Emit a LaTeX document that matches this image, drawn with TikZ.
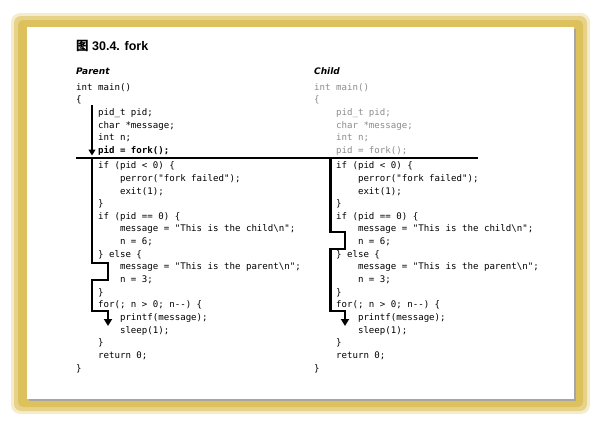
\documentclass[tikz,border=0pt]{standalone}
\usepackage{fontspec}
\usepackage{tikz}
\usetikzlibrary{arrows.meta}
\setmainfont{Liberation Sans}
\setsansfont{DejaVu Sans}
\setmonofont{DejaVu Sans Mono}
\newfontfamily\cjkfont{Noto Sans CJK SC}
\definecolor{glowgold}{RGB}{221,193,92}
\definecolor{childgray}{RGB}{140,140,140}
\newcommand{\indA}{\phantom{0000}}
\newcommand{\indB}{\phantom{00000000}}

\tikzset{
    code/.style={anchor=base west, inner sep=0pt, align=left, font=\ttfamily\fontsize{9.1}{12.65}\selectfont},
    head/.style={anchor=base west, inner sep=0pt, font=\sffamily\bfseries\itshape\fontsize{9}{11}\selectfont},
    flow/.style={line width=2.1pt},
    flowtip/.style={-{Triangle[width=8pt,length=7pt]}}
}

\begin{document}
\begin{tikzpicture}[x=1pt, y=-1pt]
    \useasboundingbox (0,0) rectangle (598,423);
    \fill[glowgold, opacity=0.3, rounded corners=9pt] (11,13) rectangle (590,414);
    \fill[glowgold, opacity=0.6, rounded corners=7pt] (14,16) rectangle (587,411);
    \fill[glowgold, rounded corners=5pt] (18,20) rectangle (583,407);
    \fill[gray!70] (29,29) rectangle (576,401);
    \fill[white] (27,27) rectangle (574,399);

    \node[anchor=base west, inner sep=0pt, font=\bfseries\fontsize{12.5}{14}\selectfont] (title) at (76,50) {{\cjkfont 图} 30.4. fork};
    \node[head] (parent) at (76,74.3) {Parent};
    \node[head] (child) at (314,74.3) {Child};

    % base anchor sits on the last line
    \node[code] (pcode) at (76,371.1) {
        int main()\\
        \{\\
        \indA pid\_t pid;\\
        \indA char *message;\\
        \indA int n;\\
        \indA {\bfseries pid = fork();}\\[2.75pt]
        \indA if (pid < 0) \{\\
        \indB perror("fork failed");\\
        \indB exit(1);\\
        \indA \}\\
        \indA if (pid == 0) \{\\
        \indB message = "This is the child\textbackslash n";\\
        \indB n = 6;\\
        \indA \} else \{\\
        \indB message = "This is the parent\textbackslash n";\\
        \indB n = 3;\\
        \indA \}\\
        \indA for(; n > 0; n-{}-) \{\\
        \indB printf(message);\\
        \indB sleep(1);\\
        \indA \}\\
        \indA return 0;\\
        \}
    };
    \node[code] (ccode) at (314,371.1) {
        \color{childgray}int main()\\
        \color{childgray}\{\\
        \color{childgray}\indA pid\_t pid;\\
        \color{childgray}\indA char *message;\\
        \color{childgray}\indA int n;\\
        \color{childgray}\indA pid = fork();\\[2.75pt]
        \color{black}\indA if (pid < 0) \{\\
        \indB perror("fork failed");\\
        \indB exit(1);\\
        \indA \}\\
        \indA if (pid == 0) \{\\
        \indB message = "This is the child\textbackslash n";\\
        \indB n = 6;\\
        \indA \} else \{\\
        \indB message = "This is the parent\textbackslash n";\\
        \indB n = 3;\\
        \indA \}\\
        \indA for(; n > 0; n-{}-) \{\\
        \indB printf(message);\\
        \indB sleep(1);\\
        \indA \}\\
        \indA return 0;\\
        \}
    };

    \coordinate (split-l) at (76,158);
    \coordinate (split-r) at (478,158);
    \coordinate (p-start) at (92,105);
    \coordinate (p-fork) at (92,155.5);
    \coordinate (p-split) at (92,158);
    \coordinate (c-split) at (330.5,158);

    \draw[line width=1.6pt] (split-l) -- (split-r);
    \draw[line width=1.1pt, -{Triangle[width=7pt,length=6pt]}] (p-start) -- (p-fork);
    \draw[flow, flowtip] (p-split) -- ++(0,105) -- ++(16,0) -- ++(0,17) -- ++(-16,0) -- ++(0,31) -- ++(16,0) -- ++(0,15);
    \draw[flow, flowtip] (c-split) -- ++(0,74) -- ++(14.5,0) -- ++(0,17) -- ++(-14.5,0) -- ++(0,62) -- ++(14.5,0) -- ++(0,15);
\end{tikzpicture}
\end{document}
